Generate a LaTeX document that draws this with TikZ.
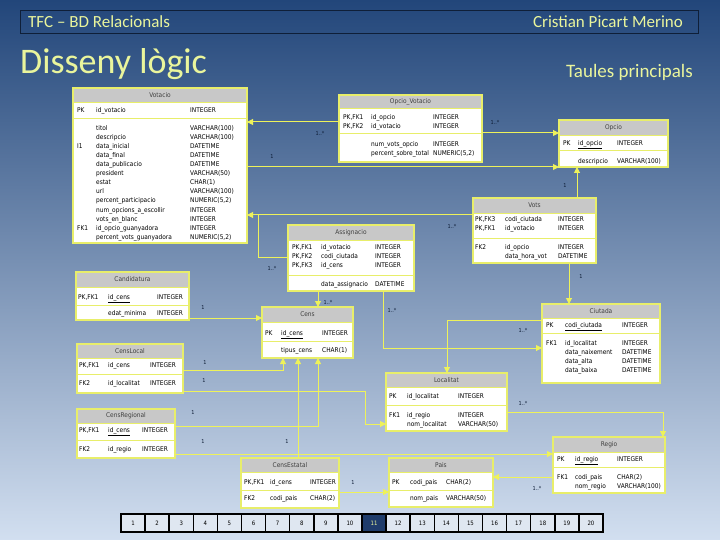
\documentclass[tikz,border=0pt]{standalone}
\usepackage{fontspec}
\setmainfont{Carlito}
\newfontfamily\tabfont[FakeStretch=0.9]{DejaVu Sans}
\usetikzlibrary{arrows.meta}
\definecolor{bgtop}{HTML}{22467A}
\definecolor{bgmid}{HTML}{4A7AB5}
\definecolor{bgbot}{HTML}{D2DFF0}
\definecolor{titleyel}{HTML}{EAF59C}
\definecolor{tblyel}{HTML}{E8EE6A}
\definecolor{hdrgrey}{HTML}{C8C8C8}
\definecolor{connyel}{HTML}{EEF25A}
\definecolor{lblblue}{HTML}{0B1A33}
\definecolor{pgdark}{HTML}{1F3C6B}
\definecolor{pglight}{HTML}{DFE7F1}
\definecolor{hdrline}{HTML}{0F1F38}

\newcommand\dbtable[8]{%
  \pgfmathsetmacro\tw{#4-#2}\pgfmathsetmacro\th{#5-#3}%
  \node[tblbox, minimum width=\tw pt, minimum height=\th pt, anchor=north west] (#1) at (#2,#3) {};
  \fill[hdrgrey] (#2,#3) rectangle (#4,#6);
  \draw[tblline] (#2,#6) -- (#4,#6);
  \draw[tblline] (#2,#7) -- (#4,#7);
  \draw[tblborder] (#1.north west) rectangle (#1.south east);
  \node[ttl] (#1-title) at ({(#2+#4)/2},{(#3+#6)/2}) {#8};
}

\begin{document}
\begin{tikzpicture}[x=1pt,y=-1pt,
  tblbox/.style={fill=white, inner sep=0pt, outer sep=0pt},
  tblborder/.style={draw=tblyel, line width=1.2pt},
  tblline/.style={draw=tblyel, line width=0.9pt},
  ttl/.style={font=\tabfont\fontsize{6.5}{8}\selectfont, text=black!75, inner sep=0pt},
  colt/.style={font=\tabfont\fontsize{6.5}{9.1}\selectfont, align=left, inner sep=0pt, anchor=north west, text=black},
  conn/.style={draw=connyel, line width=1pt},
  tip/.style={-{Triangle[length=6pt,width=6pt]}},
  lbl/.style={font=\tabfont\fontsize{5.5}{6}\selectfont, text=lblblue, inner sep=0pt},
  pgbox/.style={draw=black, line width=1.5pt, fill=pglight, minimum width=24.1pt, minimum height=18pt, inner sep=0pt, font=\tabfont\fontsize{6}{7}\selectfont, text=black},
  pgcur/.style={pgbox, fill=pgdark, text=titleyel},
]
\useasboundingbox (0,0) rectangle (720,540);
\shade[top color=bgtop, middle color=bgmid, bottom color=bgbot] (0,0) rectangle (720,540);

% header bar
\node[draw=hdrline, line width=1pt, minimum width=678pt, minimum height=23pt, anchor=north west, inner sep=0pt] (hdr) at (20,10) {};
\node[anchor=west, text=titleyel, font=\fontsize{17}{18}\selectfont, inner sep=0pt] (hdrl) at (28,21.5) {TFC – BD Relacionals};
\node[anchor=east, text=titleyel, font=\fontsize{17}{18}\selectfont, inner sep=0pt] (hdrr) at (683,21.5) {Cristian Picart Merino};
\node[anchor=west, text=titleyel, font=\fontsize{36}{40}\selectfont, inner sep=0pt] (maintitle) at (20,64) {Disseny lògic};
\node[anchor=east, text=titleyel, font=\fontsize{19}{22}\selectfont, inner sep=0pt] (subtitle) at (693,72) {Taules principals};

% ---------- tables ----------
\dbtable{votacio}{73}{88}{247}{243}{102}{118}{Votacio}
\node[colt] (vo-k) at (77,107.3) {PK};
\node[colt] (vo-n) at (96,107.3) {id\_votacio};
\node[colt] (vo-t) at (190,107.3) {INTEGER};
\node[colt] (vo-k2) at (77,143.2) {I1};
\node[colt] (vo-k3) at (77,225.1) {FK1};
\node[colt] (vo-bn) at (96,125) {titol\\descripcio\\data\_inicial\\data\_final\\data\_publicacio\\president\\estat\\url\\percent\_participacio\\num\_opcions\_a\_escollir\\vots\_en\_blanc\\id\_opcio\_guanyadora\\percent\_vots\_guanyadora};
\node[colt] (vo-bt) at (190,125) {VARCHAR(100)\\VARCHAR(100)\\DATETIME\\DATETIME\\DATETIME\\VARCHAR(50)\\CHAR(1)\\VARCHAR(100)\\NUMERIC(5,2)\\INTEGER\\INTEGER\\INTEGER\\NUMERIC(5,2)};

\dbtable{opvot}{339}{95}{482}{162}{108}{133}{Opcio\_Votacio}
\node[colt] (ov-k) at (343,114.3) {PK,FK1\\PK,FK2};
\node[colt] (ov-n) at (371,114.3) {id\_opcio\\id\_votacio};
\node[colt] (ov-t) at (433,114.3) {INTEGER\\INTEGER};
\node[colt] (ov-bn) at (371,141.3) {num\_vots\_opcio\\percent\_sobre\_total};
\node[colt] (ov-bt) at (433,141.3) {INTEGER\\NUMERIC(5,2)};

\dbtable{opcio}{559}{120}{668}{167}{135}{150}{Opcio}
\node[colt] (op-k) at (563,140.3) {PK};
\node[colt] (op-n) at (578,140.3) {\underline{id\_opcio}};
\node[colt] (op-t) at (617,140.3) {INTEGER};
\node[colt] (op-bn) at (578,158.3) {descripcio};
\node[colt] (op-bt) at (617,158.3) {VARCHAR(100)};

\dbtable{vot}{473}{198}{596}{263}{213}{238}{Vots}
\node[colt] (vt-k) at (475,216.3) {PK,FK3\\PK,FK1};
\node[colt] (vt-n) at (505,216.3) {codi\_ciutada\\id\_votacio};
\node[colt] (vt-t) at (558,216.3) {INTEGER\\INTEGER};
\node[colt] (vt-bk) at (475,244.3) {FK2};
\node[colt] (vt-bn) at (505,244.3) {id\_opcio\\data\_hora\_vot};
\node[colt] (vt-bt) at (558,244.3) {INTEGER\\DATETIME};

\dbtable{assig}{288}{225}{414}{291}{240}{275}{Assignacio}
\node[colt] (as-k) at (292,244.3) {PK,FK1\\PK,FK2\\PK,FK3};
\node[colt] (as-n) at (321,244.3) {id\_votacio\\codi\_ciutada\\id\_cens};
\node[colt] (as-t) at (375,244.3) {INTEGER\\INTEGER\\INTEGER};
\node[colt] (as-bn) at (321,281.3) {data\_assignacio};
\node[colt] (as-bt) at (375,281.3) {DATETIME};

\dbtable{candid}{76}{272}{189}{320}{287}{305}{Candidatura}
\node[colt] (cd-k) at (78,294.3) {PK,FK1};
\node[colt] (cd-n) at (108,294.3) {\underline{id\_cens}};
\node[colt] (cd-t) at (157,294.3) {INTEGER};
\node[colt] (cd-bn) at (108,310.3) {edat\_minima};
\node[colt] (cd-bt) at (157,310.3) {INTEGER};

\dbtable{cens}{262}{307}{353}{358}{322}{341}{Cens}
\node[colt] (cs-k) at (265,330.3) {PK};
\node[colt] (cs-n) at (281,330.3) {\underline{id\_cens}};
\node[colt] (cs-t) at (322,330.3) {INTEGER};
\node[colt] (cs-bn) at (281,347.3) {tipus\_cens};
\node[colt] (cs-bt) at (322,347.3) {CHAR(1)};

\dbtable{ciutada}{542}{304}{660}{383}{318}{333}{Ciutada}
\node[colt] (ci-k) at (546,322.3) {PK};
\node[colt] (ci-n) at (565,322.3) {\underline{codi\_ciutada}};
\node[colt] (ci-t) at (622,322.3) {INTEGER};
\node[colt] (ci-bk) at (546,340.3) {FK1};
\node[colt] (ci-bn) at (565,340.3) {id\_localitat\\data\_naixement\\data\_alta\\data\_baixa};
\node[colt] (ci-bt) at (622,340.3) {INTEGER\\DATETIME\\DATETIME\\DATETIME};

\dbtable{censlocal}{77}{344}{183}{393}{358}{374}{CensLocal}
\node[colt] (cl-k) at (79,362.3) {PK,FK1};
\node[colt] (cl-n) at (108,362.3) {id\_cens};
\node[colt] (cl-t) at (150,362.3) {INTEGER};
\node[colt] (cl-bk) at (79,380.3) {FK2};
\node[colt] (cl-bn) at (108,380.3) {id\_localitat};
\node[colt] (cl-bt) at (150,380.3) {INTEGER};

\dbtable{localitat}{386}{373}{507}{431}{387}{405}{Localitat}
\node[colt] (lo-k) at (389,393.3) {PK};
\node[colt] (lo-n) at (407,393.3) {id\_localitat};
\node[colt] (lo-t) at (458,393.3) {INTEGER};
\node[colt] (lo-bk) at (389,412.3) {FK1};
\node[colt] (lo-bn) at (407,412.3) {id\_regio\\nom\_localitat};
\node[colt] (lo-bt) at (458,412.3) {INTEGER\\VARCHAR(50)};

\dbtable{censreg}{77}{409}{175}{458}{423}{440}{CensRegional}
\node[colt] (cr-k) at (79,427.3) {PK,FK1};
\node[colt] (cr-n) at (108,427.3) {\underline{id\_cens}};
\node[colt] (cr-t) at (142,427.3) {INTEGER};
\node[colt] (cr-bk) at (79,446.3) {FK2};
\node[colt] (cr-bn) at (108,446.3) {id\_regio};
\node[colt] (cr-bt) at (142,446.3) {INTEGER};

\dbtable{censest}{241}{458}{339}{508}{472}{490}{CensEstatal}
\node[colt] (ce-k) at (244,479.3) {PK,FK1};
\node[colt] (ce-n) at (270,479.3) {id\_cens};
\node[colt] (ce-t) at (310,479.3) {INTEGER};
\node[colt] (ce-bk) at (244,495.3) {FK2};
\node[colt] (ce-bn) at (270,495.3) {codi\_pais};
\node[colt] (ce-bt) at (310,495.3) {CHAR(2)};

\dbtable{pais}{389}{458}{493}{507}{472}{490}{Pais}
\node[colt] (pa-k) at (392,479.3) {PK};
\node[colt] (pa-n) at (410,479.3) {codi\_pais};
\node[colt] (pa-t) at (446,479.3) {CHAR(2)};
\node[colt] (pa-bn) at (410,495.3) {nom\_pais};
\node[colt] (pa-bt) at (446,495.3) {VARCHAR(50)};

\dbtable{regio}{553}{437}{665}{493}{452}{467}{Regio}
\node[colt] (re-k) at (557,456.3) {PK};
\node[colt] (re-n) at (575,456.3) {\underline{id\_regio}};
\node[colt] (re-t) at (617,456.3) {INTEGER};
\node[colt] (re-bk) at (557,474.3) {FK1};
\node[colt] (re-bn) at (575,474.3) {codi\_pais\\nom\_regio};
\node[colt] (re-bt) at (617,474.3) {CHAR(2)\\VARCHAR(100)};

% ---------- connectors ----------
\draw[conn,tip] (opvot.west |- 0,122) -- (votacio.east |- 0,122);
\draw[conn,tip] (opvot.east |- 0,133) -- (opcio.west |- 0,133);
\draw[conn,tip] (votacio.east |- 0,167) -- (opcio.west |- 0,167);
\draw[conn,tip] (vot.west |- 0,215) -- (votacio.east |- 0,215);
\draw[conn] (assig.west |- 0,257) -| (258,215);
\draw[conn,tip] (vot.north -| 577,0) -- (opcio.south -| 577,0);
\draw[conn,tip] (vot.south -| 569,0) -- (ciutada.north -| 569,0);
\draw[conn,tip] (assig.south -| 318,0) -- (cens.north -| 318,0);
\draw[conn,tip] (assig.south -| 383,0) |- (ciutada.west |- 0,348);
\draw[conn,tip] (candid.east |- 0,318) -- (cens.west |- 0,318);
\draw[conn,tip] (ciutada.west |- 0,320) -| (localitat.north -| 447,0);
\draw[conn,tip] (localitat.east |- 0,412) -| (regio.north -| 663,0);
\draw[conn,tip] (censlocal.east |- 0,370) -| (cens.south -| 283,0);
\draw[conn,tip] (censlocal.east |- 0,391) -| (365,424) -- (localitat.west |- 0,424);
\draw[conn,tip] (censreg.east |- 0,426) -| (cens.south -| 318,0);
\draw[conn,tip] (censreg.east |- 0,454) -- (regio.west |- 0,454);
\draw[conn,tip] (censest.north -| 298,0) -- (cens.south -| 298,0);
\draw[conn,tip] (censest.east |- 0,492) -- (pais.west |- 0,492);
\draw[conn,tip] (regio.west |- 0,477) -- (pais.east |- 0,477);

% ---------- multiplicities ----------
\node[lbl] (m1) at (320,133) {1..*};
\node[lbl] (m2) at (495,122) {1..*};
\node[lbl] (m3) at (272,156) {1};
\node[lbl] (m4) at (452,226) {1..*};
\node[lbl] (m5) at (272,268) {1..*};
\node[lbl] (m6) at (565,185) {1};
\node[lbl] (m7) at (581,276) {1};
\node[lbl] (m8) at (328,302) {1..*};
\node[lbl] (m9) at (392,310) {1..*};
\node[lbl] (m10) at (203,307) {1};
\node[lbl] (m11) at (523,330) {1..*};
\node[lbl] (m12) at (523,403) {1..*};
\node[lbl] (m13) at (205,362) {1};
\node[lbl] (m14) at (204,380) {1};
\node[lbl] (m15) at (193,412) {1};
\node[lbl] (m16) at (203,441) {1};
\node[lbl] (m17) at (287,441) {1};
\node[lbl] (m18) at (353,482) {1};
\node[lbl] (m19) at (537,488) {1..*};

% ---------- pagination ----------
\foreach \i in {1,...,20}{
  \pgfmathsetmacro\xx{121+(\i-0.5)*24.1}
  \ifnum\i=11
    \node[pgcur] (pg\i) at (\xx,523) {\i};
  \else
    \node[pgbox] (pg\i) at (\xx,523) {\i};
  \fi
}
\end{tikzpicture}
\end{document}
